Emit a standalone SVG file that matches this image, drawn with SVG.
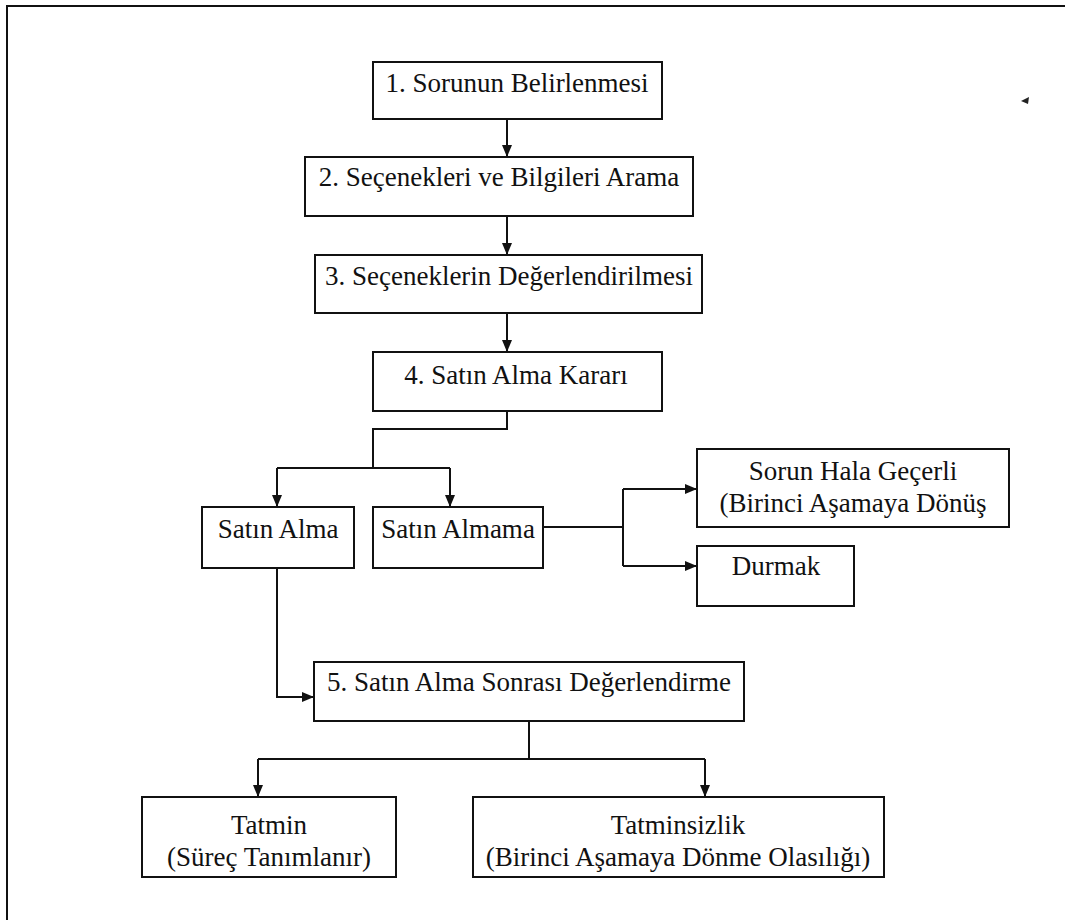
<svg xmlns="http://www.w3.org/2000/svg" width="1065" height="922" viewBox="0 0 1065 922">
<defs>
<marker id="ah" viewBox="0 0 12 10" refX="12" refY="5" markerWidth="12" markerHeight="10" markerUnits="userSpaceOnUse" orient="auto">
<path d="M0,0 L12,5 L0,10 Z" fill="#111"/>
</marker>
<style>
.box{fill:#fff;stroke:#111;stroke-width:2}
.t{font-family:"Liberation Serif","Times New Roman",serif;font-size:27px;fill:#111;text-anchor:middle}
.c{fill:none;stroke:#111;stroke-width:2}
.frame{fill:none;stroke:#111;stroke-width:2}
</style>
</defs>
<rect width="1065" height="922" fill="#fff"/>
<g id="frame">
<path class="frame" d="M7,920 V6 H1065"/>
<path d="M1021,101 L1029,97 L1028,104 Z" fill="#222"/>
</g>
<g id="connectors">
<path class="c" d="M507,119 V157" marker-end="url(#ah)"/>
<path class="c" d="M507,216 V255" marker-end="url(#ah)"/>
<path class="c" d="M507,313 V352" marker-end="url(#ah)"/>
<path class="c" d="M507,411 V429 H373 V468"/>
<path class="c" d="M277,468 H450"/>
<path class="c" d="M277,468 V507" marker-end="url(#ah)"/>
<path class="c" d="M450,468 V507" marker-end="url(#ah)"/>
<path class="c" d="M543,527 H623"/>
<path class="c" d="M623,489 V566"/>
<path class="c" d="M623,489 H697" marker-end="url(#ah)"/>
<path class="c" d="M623,566 H697" marker-end="url(#ah)"/>
<path class="c" d="M277,568 V697 H314" marker-end="url(#ah)"/>
<path class="c" d="M529,721 V759"/>
<path class="c" d="M258,759 H705"/>
<path class="c" d="M258,759 V797" marker-end="url(#ah)"/>
<path class="c" d="M705,759 V797" marker-end="url(#ah)"/>
</g>
<g id="n1"><rect class="box" x="373" y="62" width="289" height="57"/><text class="t" x="517" y="92">1. Sorunun Belirlenmesi</text></g>
<g id="n2"><rect class="box" x="305" y="157" width="388" height="59"/><text class="t" x="499" y="186">2. Seçenekleri ve Bilgileri Arama</text></g>
<g id="n3"><rect class="box" x="315" y="255" width="387" height="58"/><text class="t" x="509" y="285">3. Seçeneklerin Değerlendirilmesi</text></g>
<g id="n4"><rect class="box" x="373" y="352" width="289" height="59"/><text class="t" x="516" y="384">4. Satın Alma Kararı</text></g>
<g id="n5"><rect class="box" x="202" y="507" width="152" height="61"/><text class="t" x="278" y="538">Satın Alma</text></g>
<g id="n6"><rect class="box" x="373" y="507" width="170" height="61"/><text class="t" x="458" y="538">Satın Almama</text></g>
<g id="n7"><rect class="box" x="697" y="449" width="312" height="78"/><text class="t" x="853" y="480">Sorun Hala Geçerli</text><text class="t" x="853" y="512">(Birinci Aşamaya Dönüş</text></g>
<g id="n8"><rect class="box" x="697" y="546" width="157" height="60"/><text class="t" x="776" y="575">Durmak</text></g>
<g id="n9"><rect class="box" x="314" y="662" width="430" height="59"/><text class="t" x="529" y="691">5. Satın Alma Sonrası Değerlendirme</text></g>
<g id="n10"><rect class="box" x="142" y="797" width="254" height="80"/><text class="t" x="269" y="834">Tatmin</text><text class="t" x="269" y="866">(Süreç Tanımlanır)</text></g>
<g id="n11"><rect class="box" x="473" y="797" width="411" height="80"/><text class="t" x="678" y="834">Tatminsizlik</text><text class="t" x="678" y="866">(Birinci Aşamaya Dönme Olasılığı)</text></g>
</svg>
